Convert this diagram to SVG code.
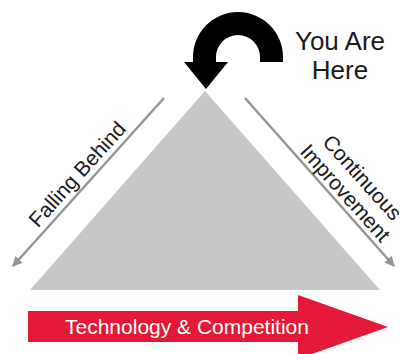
<svg xmlns="http://www.w3.org/2000/svg" width="401" height="354" viewBox="0 0 401 354">
  <style>
    .lbl { font-family: "Liberation Sans", Arial, sans-serif; fill: #1a1a1a; }
    .side { font-size: 21px; }
    .guide { stroke: #959595; stroke-width: 2.5; fill: none; marker-end: url(#grayHead); }
  </style>
  <defs>
    <marker id="grayHead" viewBox="0 0 10 10" refX="9" refY="5" markerWidth="4" markerHeight="4" orient="auto" markerUnits="strokeWidth">
      <path d="M0,0 L10,5 L0,10 Z" fill="#959595"/>
    </marker>
  </defs>

  <rect width="401" height="354" fill="#ffffff"/>

  <!-- central pyramid -->
  <g id="pyramid">
    <polygon points="205,91 30,290 380,290" fill="#c6c7c9"/>
  </g>

  <!-- side guides -->
  <g id="connectors">
    <line class="guide" x1="164" y1="98" x2="13" y2="266"/>
    <line class="guide" x1="245" y1="98" x2="394" y2="266"/>
  </g>

  <!-- curved black arrow pointing at the apex -->
  <g id="you-are-here">
    <path d="M283,62 L283,57 A45,45 0 0 0 193,57 L193,62 L184,62 L206,89 L228,62 L216,62 L216,57 A22,22 0 0 1 260,57 L260,62 Z" fill="#000000"/>
    <text class="lbl" x="340" y="50" font-size="26" text-anchor="middle">You Are</text>
    <text class="lbl" x="340" y="79" font-size="26" text-anchor="middle">Here</text>
  </g>

  <g id="falling-behind">
    <text class="lbl side" text-anchor="middle" dominant-baseline="central" transform="translate(77,174) rotate(-48)">Falling Behind</text>
  </g>

  <g id="continuous-improvement">
    <g transform="translate(354,185) rotate(48)">
      <text class="lbl side" text-anchor="middle" x="0" y="-4">Continuous</text>
      <text class="lbl side" text-anchor="middle" x="0" y="19">Improvement</text>
    </g>
  </g>

  <!-- red direction arrow -->
  <g id="tech-competition">
    <polygon points="28,311 298,311 298,295 388,327 298,359 298,342 28,342" fill="#e31937"/>
    <text x="187" y="334" font-family="'Liberation Sans', Arial, sans-serif" font-size="21" fill="#ffffff" text-anchor="middle">Technology &amp; Competition</text>
  </g>
</svg>
